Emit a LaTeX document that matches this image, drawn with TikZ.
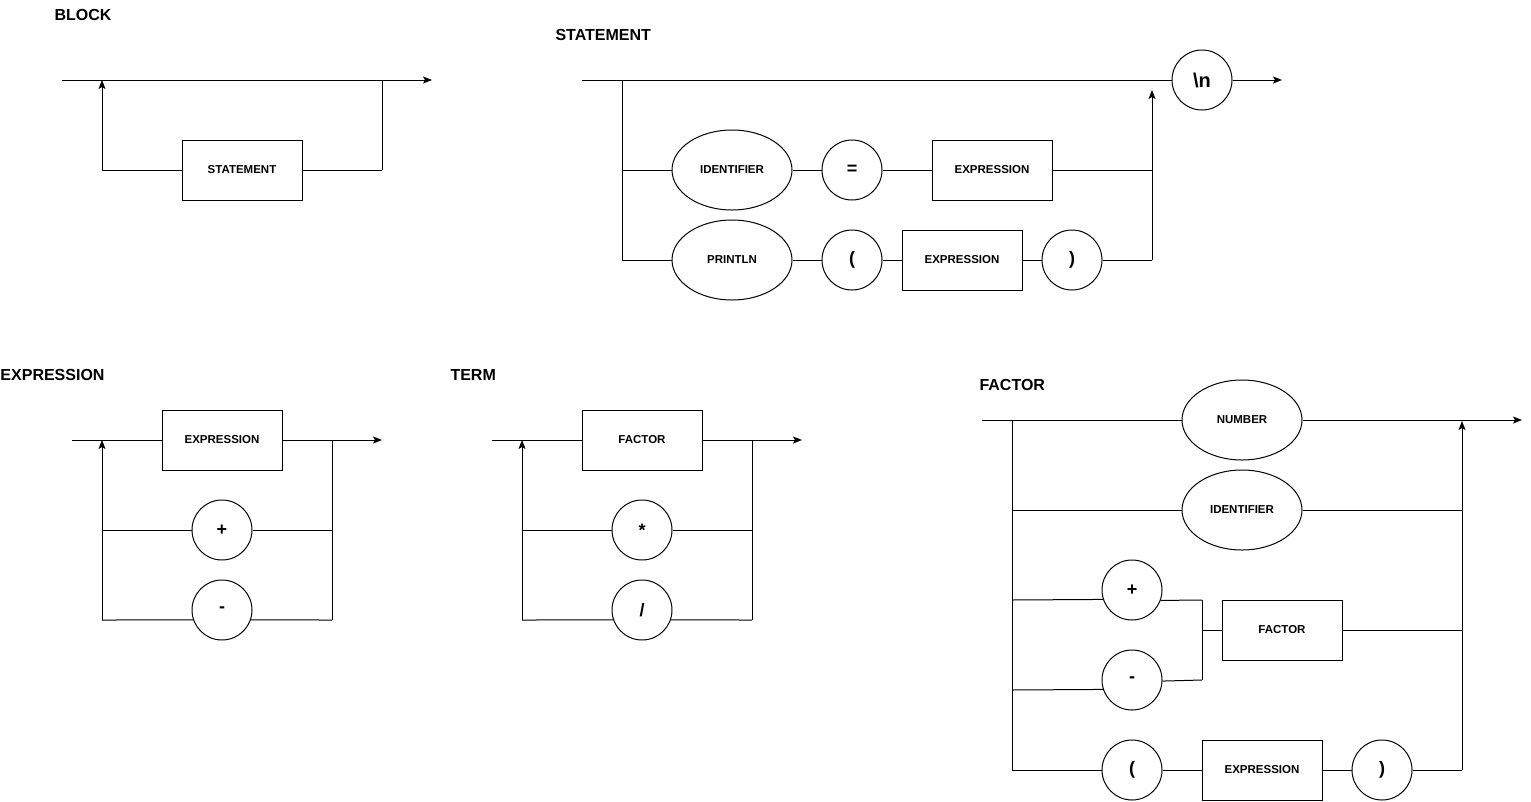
\documentclass[tikz,border=0pt]{standalone}
\usepackage{fontspec}
\setmainfont{Liberation Sans}
\usepackage{tikz}
\usetikzlibrary{graphs}
\usetikzlibrary{arrows.meta}
\usetikzlibrary{shapes.geometric}

\tikzset{
    box/.style={draw, rectangle, minimum width=120pt, minimum height=60pt, inner sep=0pt,
        font=\bfseries\fontsize{11.5}{13}\selectfont},
    oval/.style={draw, ellipse, minimum width=120pt, minimum height=80pt, inner sep=0pt,
        font=\bfseries\fontsize{11.5}{13}\selectfont},
    sym/.style={draw, circle, minimum size=60pt, inner sep=0pt,
        font=\bfseries\fontsize{18}{20}\selectfont},
    title/.style={anchor=west, inner sep=0pt, font=\bfseries\fontsize{16}{18}\selectfont}
}

\begin{document}
\begin{tikzpicture}[x=1pt, y=-1pt, line width=1pt, >={Stealth[length=9pt, width=7pt, inset=2pt]}]
        \useasboundingbox (0,0) rectangle (1531,801);

        % BLOCK
        \node[title] (blockT) at (54,15) {BLOCK};
        \coordinate (b0) at (62,80);
        \coordinate (b1) at (102,80);
        \coordinate (b2) at (382,80);
        \coordinate (b3) at (432,80);
        \coordinate (b4) at (382,170);
        \coordinate (b5) at (102,170);
        \node[box] (blockS) at (242,170) {STATEMENT};

        \graph {(b0) -- (b2) -> (b3)};
        \graph {(b2) -- (b4) -- (blockS) -- (b5) -> (b1)};

        % STATEMENT
        \node[title] (stmtT) at (555,35) {STATEMENT};
        \coordinate (s0) at (582,80);
        \coordinate (s1) at (622,80);
        \node[sym, font=\bfseries\fontsize{20}{22}\selectfont] (nl) at (1202,80) {\textbackslash n};
        \coordinate (s2) at (1282,80);
        \coordinate (s3) at (622,170);
        \coordinate (s4) at (622,260);
        \node[oval] (ident) at (732,170) {IDENTIFIER};
        \node[sym] (eq) at (852,170) {=};
        \node[box] (expr1) at (992,170) {EXPRESSION};
        \coordinate (s5) at (1152,170);
        \node[oval] (println) at (732,260) {PRINTLN};
        \node[sym] (lp) at (852,260) {(};
        \node[box] (expr2) at (962,260) {EXPRESSION};
        \node[sym] (rp) at (1072,260) {)};
        \coordinate (s6) at (1152,260);
        \coordinate (s7) at (1152,90);

        \graph {(s0) -- (nl) -> (s2)};
        \graph {(s1) -- (s3) -- (s4)};
        \graph {(s3) -- (ident) -- (eq) -- (expr1) -- (s5)};
        \graph {(s4) -- (println) -- (lp) -- (expr2) -- (rp) -- (s6) -> (s7)};

        % EXPRESSION
        \node[title] (exprT) at (0,375) {EXPRESSION};
        \coordinate (e0) at (72,440);
        \coordinate (e1) at (102,440);
        \node[box] (exprB) at (222,440) {EXPRESSION};
        \coordinate (e2) at (332,440);
        \coordinate (e3) at (382,440);
        \coordinate (e4) at (102,530);
        \node[sym] (plus1) at (222,530) {+};
        \coordinate (e5) at (332,530);
        \coordinate (e6) at (102,620);
        \node[sym] (minus1) at (222,610) {-};
        \coordinate (e7) at (332,620);
        \coordinate (e8) at (minus1.199);
        \coordinate (e9) at (minus1.341);

        \graph {(e0) -- (exprB) -- (e2) -> (e3)};
        \graph {(e2) -- (e5) -- (e7)};
        \graph {(e4) -- (plus1) -- (e5)};
        \graph {(e6) -- (e8)};
        \graph {(e9) -- (e7)};
        \graph {(e6) -- (e4) -> (e1)};

        % TERM
        \node[title] (termT) at (450,375) {TERM};
        \coordinate (t0) at (492,440);
        \coordinate (t1) at (522,440);
        \node[box] (factorB) at (642,440) {FACTOR};
        \coordinate (t2) at (752,440);
        \coordinate (t3) at (802,440);
        \coordinate (t4) at (522,530);
        \node[sym] (times) at (642,530) {*};
        \coordinate (t5) at (752,530);
        \coordinate (t6) at (522,620);
        \node[sym] (div) at (642,610) {/};
        \coordinate (t7) at (752,620);
        \coordinate (t8) at (div.199);
        \coordinate (t9) at (div.341);

        \graph {(t0) -- (factorB) -- (t2) -> (t3)};
        \graph {(t2) -- (t5) -- (t7)};
        \graph {(t4) -- (times) -- (t5)};
        \graph {(t6) -- (t8)};
        \graph {(t9) -- (t7)};
        \graph {(t6) -- (t4) -> (t1)};

        % FACTOR
        \node[title] (factT) at (979,385) {FACTOR};
        \coordinate (f0) at (982,420);
        \coordinate (f1) at (1012,420);
        \node[oval] (number) at (1242,420) {NUMBER};
        \coordinate (f2) at (1462,421);
        \coordinate (f3) at (1522,420);
        \coordinate (f4) at (1012,510);
        \node[oval] (ident2) at (1242,510) {IDENTIFIER};
        \coordinate (f5) at (1462,510);
        \coordinate (f6) at (1012,600);
        \node[sym] (plus2) at (1132,590) {+};
        \coordinate (f7) at (1202,600);
        \coordinate (f8) at (1202,630);
        \node[box] (factorC) at (1282,630) {FACTOR};
        \coordinate (f9) at (1462,630);
        \coordinate (f10) at (1012,690);
        \node[sym] (minus2) at (1132,680) {-};
        \coordinate (f11) at (1202,680);
        \coordinate (f12) at (1012,770);
        \node[sym] (lp2) at (1132,770) {(};
        \node[box] (expr3) at (1262,770) {EXPRESSION};
        \node[sym] (rp2) at (1382,770) {)};
        \coordinate (f13) at (1462,770);
        \coordinate (pA) at (plus2.198);
        \coordinate (pB) at (plus2.340);
        \coordinate (mA) at (minus2.198);
        \coordinate (mB) at (minus2.358);

        \graph {(f0) -- (number) -> (f3)};
        \graph {(f1) -- (f4) -- (f6) -- (f10) -- (f12)};
        \graph {(f4) -- (ident2) -- (f5)};
        \graph {(f6) -- (pA)};
        \graph {(pB) -- (f7) -- (f11)};
        \graph {(f10) -- (mA)};
        \graph {(mB) -- (f11)};
        \graph {(f8) -- (factorC) -- (f9)};
        \graph {(f12) -- (lp2) -- (expr3) -- (rp2) -- (f13) -> (f2)};
    \end{tikzpicture}
\end{document}
